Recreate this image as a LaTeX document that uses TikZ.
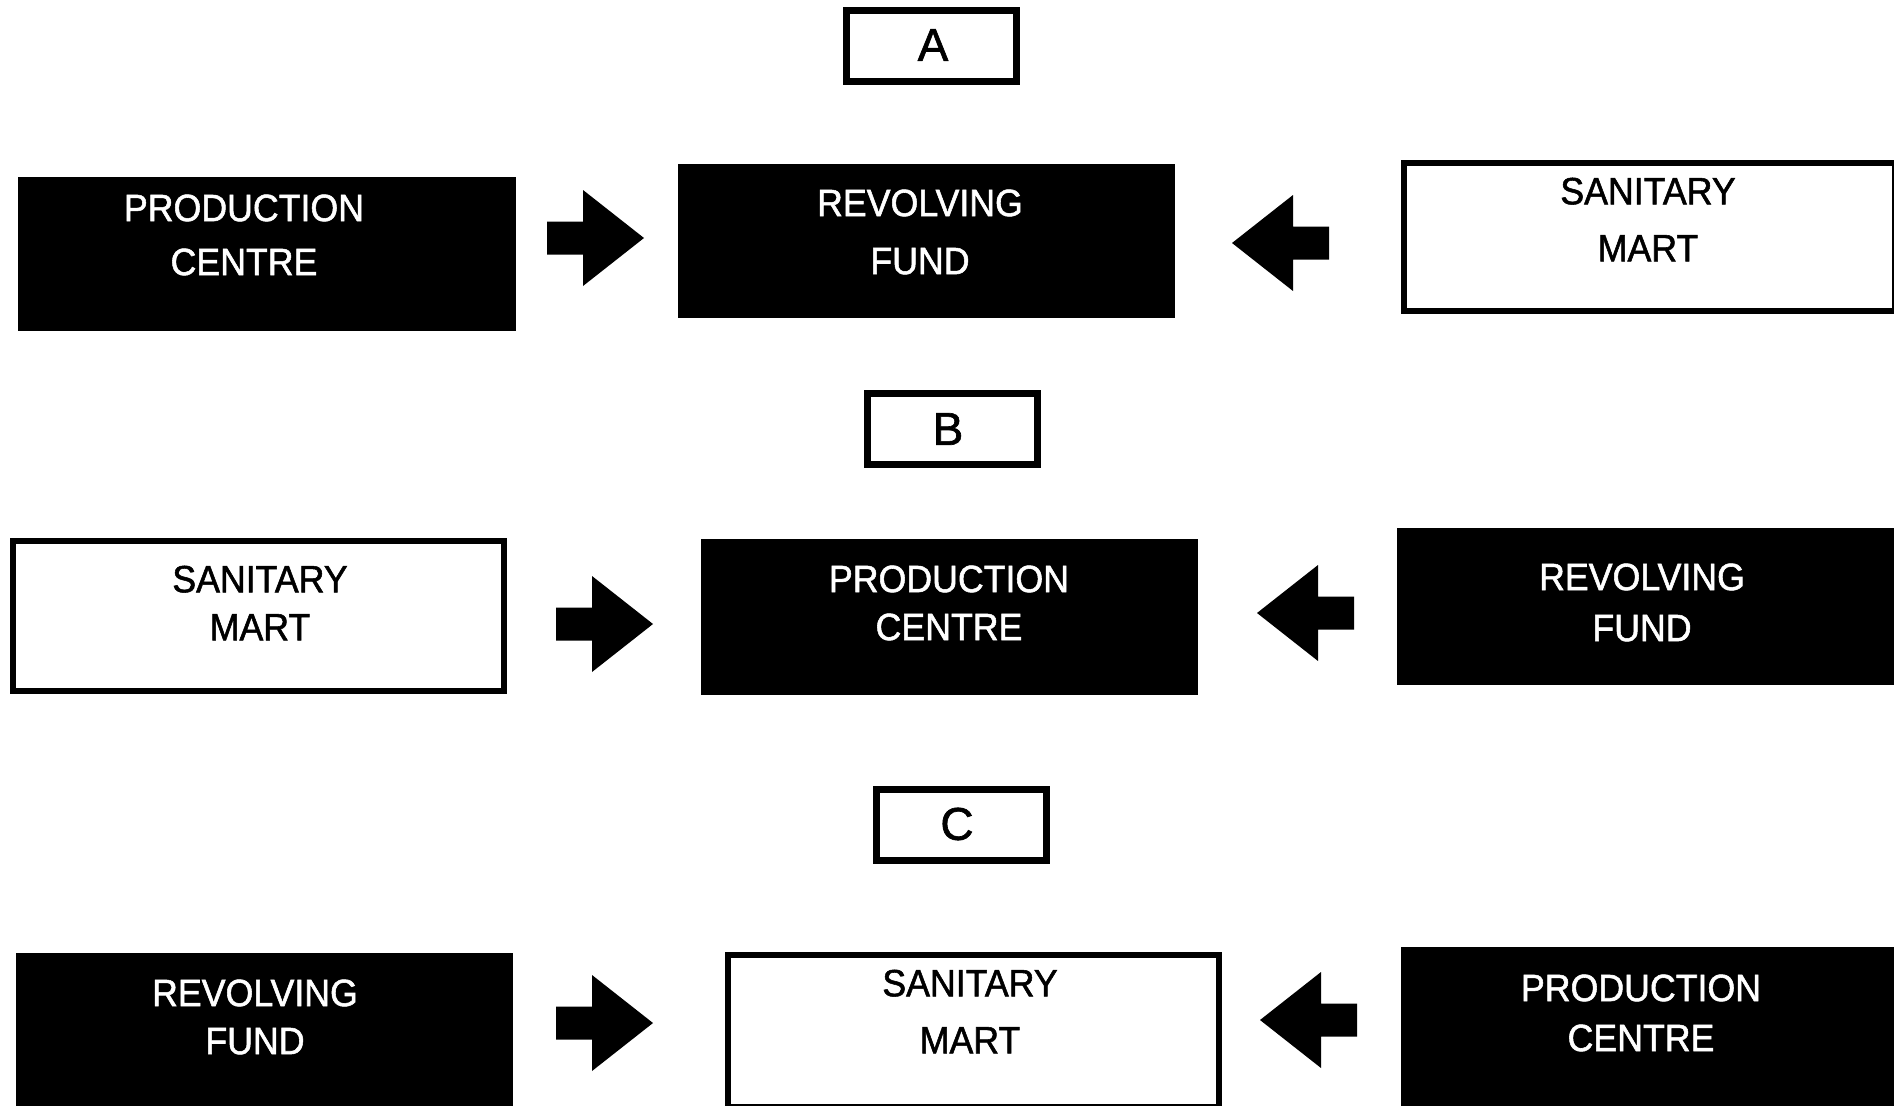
\documentclass[tikz,border=0pt]{standalone}
\usepackage{fontspec}
\setmainfont{Liberation Sans}
\newfontfamily\boxfont[FakeStretch=0.94,FakeBold=1.4]{Liberation Sans}
\newfontfamily\letterfont[FakeBold=1.4]{Liberation Sans}
\begin{document}
\begin{tikzpicture}[x=1pt,y=-1pt,
  darkbox/.style={fill=black, draw=none, inner sep=0pt, rectangle},
  whitebox/.style={fill=white, draw=black, line width=6.5pt, inner sep=0pt, rectangle},
  labelbox/.style={fill=white, draw=black, line width=7pt, inner sep=0pt, rectangle, minimum width=170pt, minimum height=71pt},
  lettertxt/.style={font={\letterfont\fontsize{46}{46}\selectfont}, inner sep=0pt},
  wtxt/.style={text=white, align=center, inner sep=0pt, font={\boxfont\fontsize{38}{#1}\selectfont}},
  btxt/.style={text=black, align=center, inner sep=0pt, font={\boxfont\fontsize{38}{#1}\selectfont}},
  rarrow/.pic={\fill[black] (0,0) -- (-61,-48) -- (-61,-16.5) -- (-97,-16.5) -- (-97,16.5) -- (-61,16.5) -- (-61,48) -- cycle;},
  larrow/.pic={\fill[black] (0,0) -- (61,-48) -- (61,-16.5) -- (97,-16.5) -- (97,16.5) -- (61,16.5) -- (61,48) -- cycle;}
]
\useasboundingbox (0,0) rectangle (1894,1105);
\clip (0,0) rectangle (1894,1105);

% ---------- A ----------
\node[labelbox] (boxA) at (931,46.5) {};
\node[lettertxt] (lA) at (933,45) {A};

\node[darkbox, minimum width=498pt, minimum height=154pt] (pcA) at (267,254) {};
\node[wtxt=54] (tpcA) at (244,235) {PRODUCTION\\CENTRE};

\node[darkbox, minimum width=497pt, minimum height=154pt] (rfA) at (926.5,241) {};
\node[wtxt=58] (trfA) at (920,232) {REVOLVING\\FUND};

\node[whitebox, minimum width=491pt, minimum height=148pt] (smA) at (1649.5,237) {};
\node[btxt=57] (tsmA) at (1648,219.5) {SANITARY\\MART};

\pic (arA1) at (644,238) {rarrow};
\pic (arA2) at (1232,243) {larrow};

% ---------- B ----------
\node[labelbox] (boxB) at (952,428.5) {};
\node[lettertxt] (lB) at (948,429) {B};

\node[whitebox, minimum width=491pt, minimum height=150pt] (smB) at (258.5,616) {};
\node[btxt=48] (tsmB) at (260,603) {SANITARY\\MART};

\node[darkbox, minimum width=497pt, minimum height=156pt] (pcB) at (949.5,617) {};
\node[wtxt=48] (tpcB) at (949,603) {PRODUCTION\\CENTRE};

\node[darkbox, minimum width=503pt, minimum height=157pt] (rfB) at (1648.5,606.5) {};
\node[wtxt=51] (trfB) at (1642,602.5) {REVOLVING\\FUND};

\pic (arB1) at (653,624) {rarrow};
\pic (arB2) at (1257,613) {larrow};

% ---------- C ----------
\node[labelbox] (boxC) at (961.5,824.5) {};
\node[lettertxt] (lC) at (957,824) {C};

\node[darkbox, minimum width=497pt, minimum height=157pt] (rfC) at (264.5,1031.5) {};
\node[wtxt=48] (trfC) at (255,1017) {REVOLVING\\FUND};

\node[whitebox, minimum width=491pt, minimum height=152pt] (smC) at (973.5,1031) {};
\node[btxt=57] (tsmC) at (970,1011.5) {SANITARY\\MART};

\node[darkbox, minimum width=499pt, minimum height=163pt] (pcC) at (1650.5,1028.5) {};
\node[wtxt=50] (tpcC) at (1641,1013) {PRODUCTION\\CENTRE};

\pic (arC1) at (653,1023) {rarrow};
\pic (arC2) at (1260,1020) {larrow};
\end{tikzpicture}
\end{document}
